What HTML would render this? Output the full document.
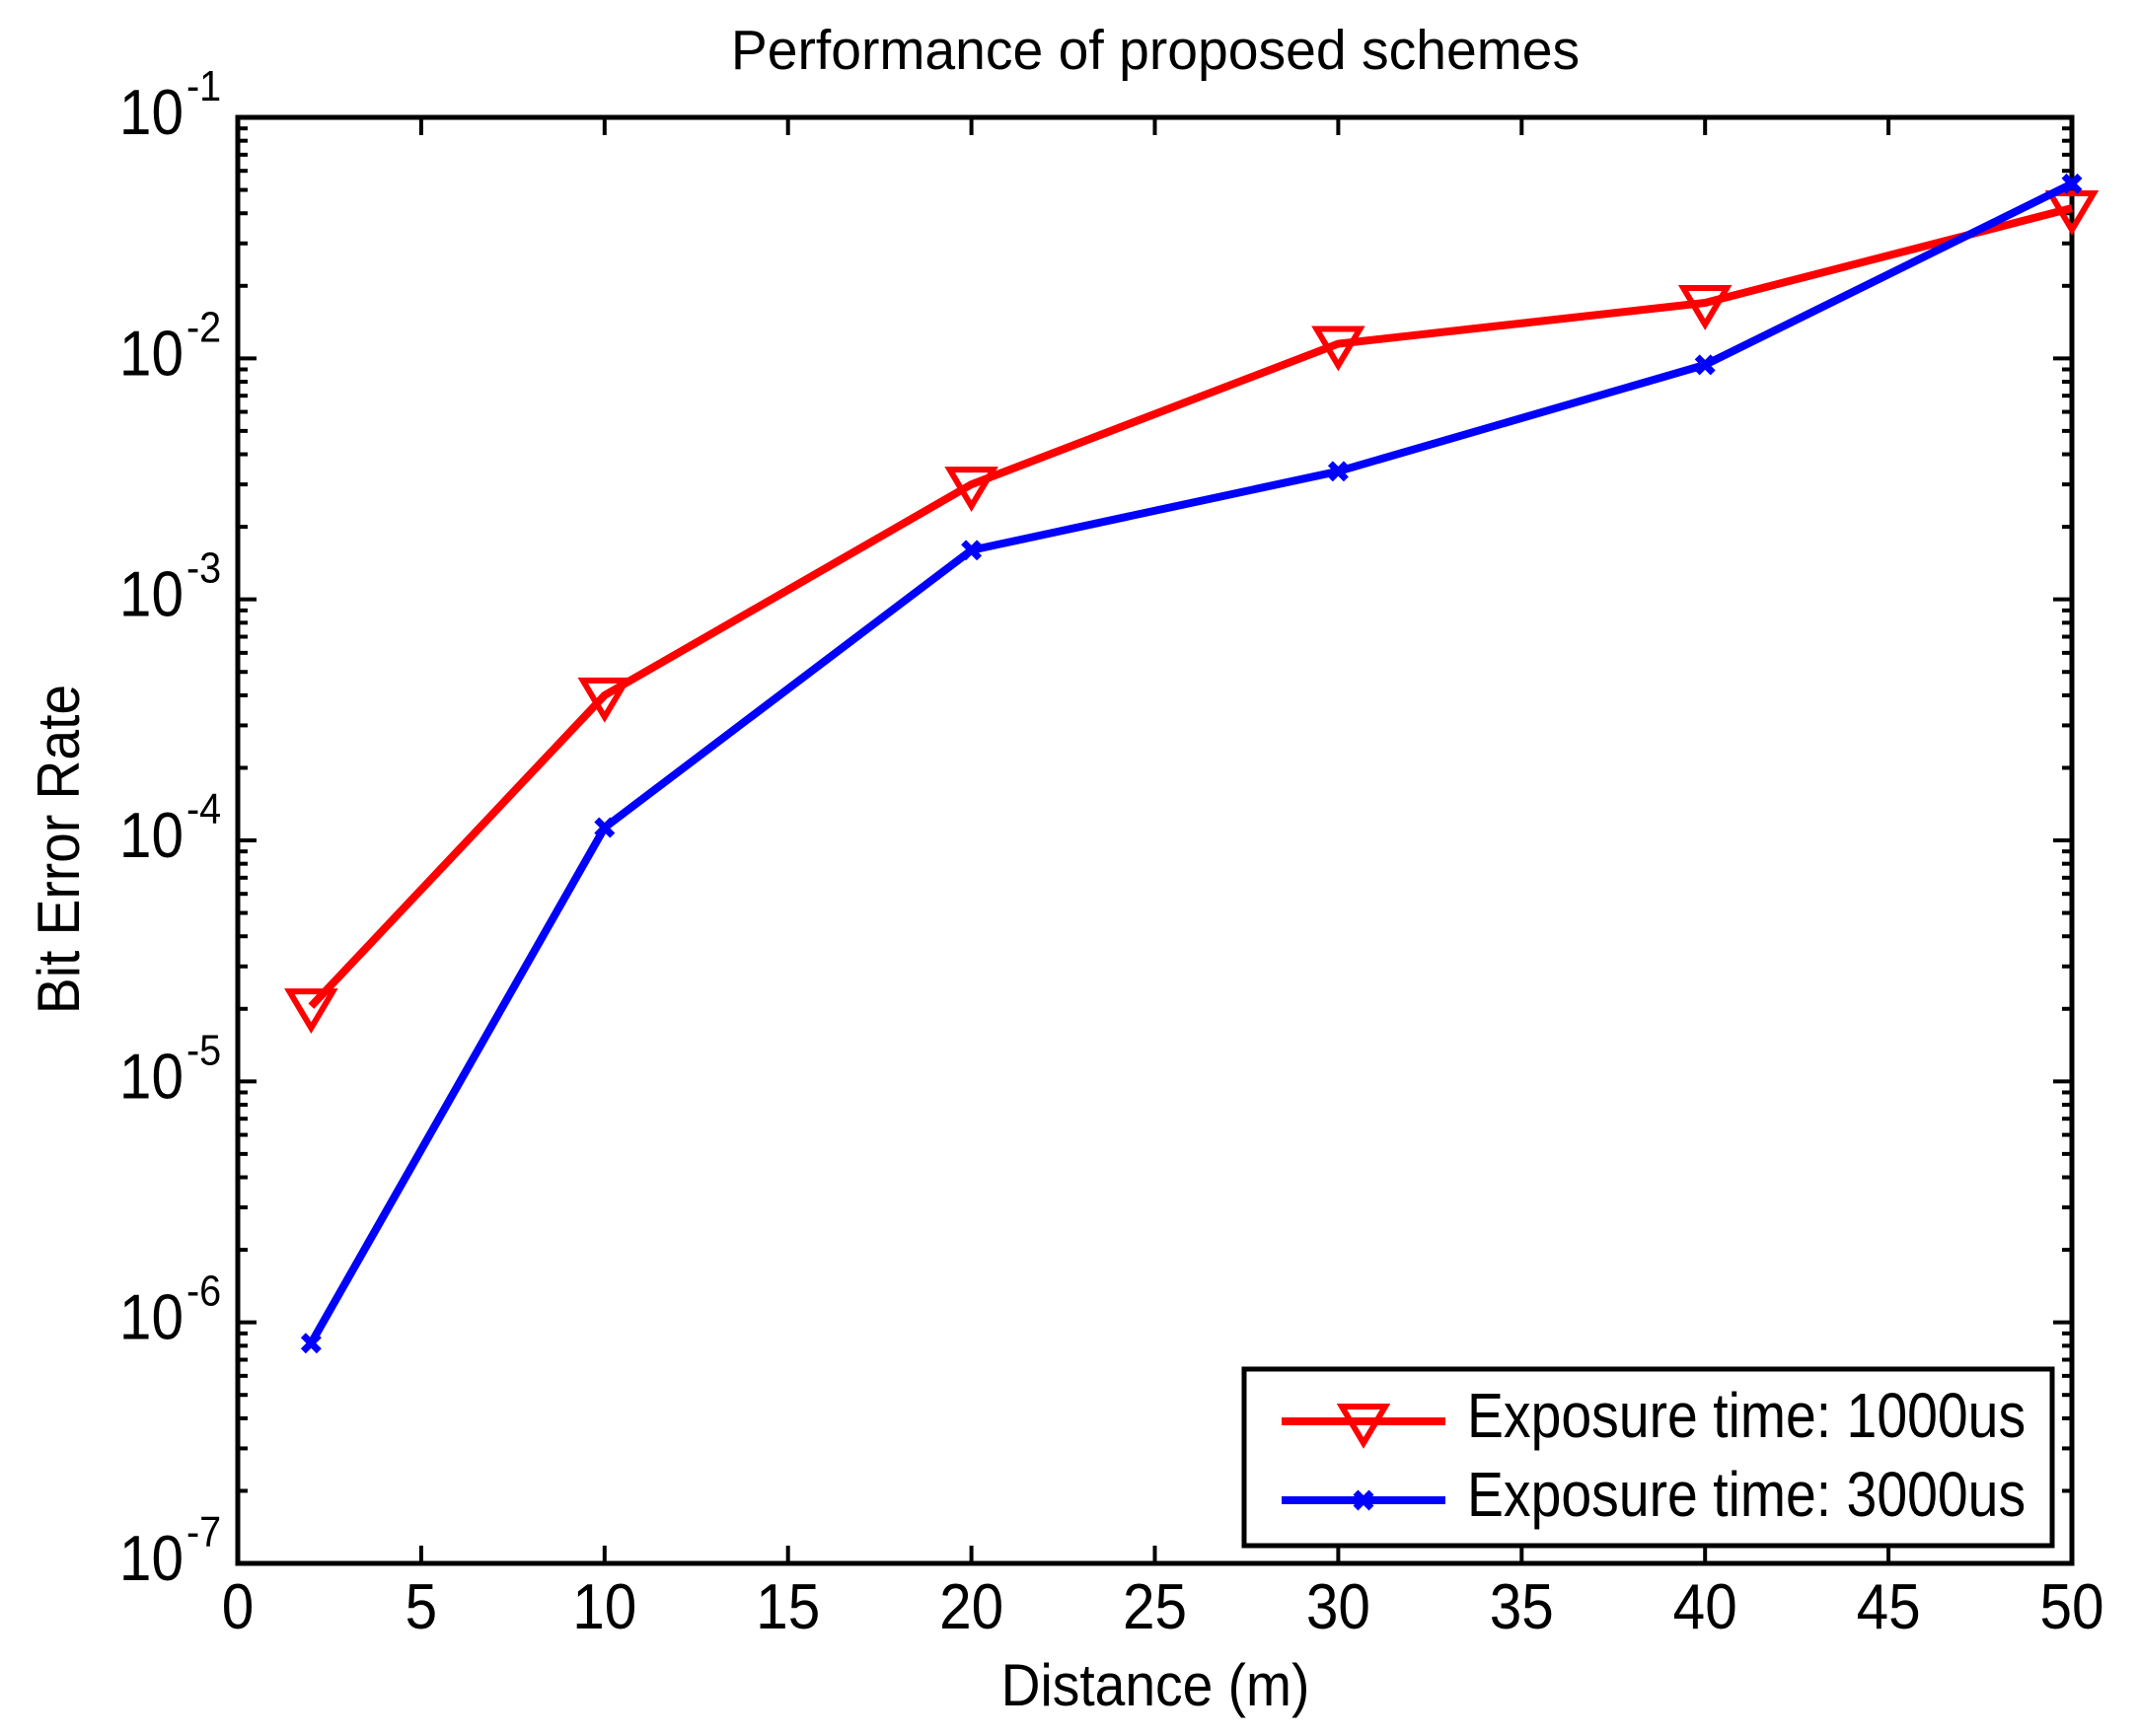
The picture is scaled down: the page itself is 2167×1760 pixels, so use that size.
<!DOCTYPE html>
<html><head><meta charset="utf-8"><style>
html,body{margin:0;padding:0;background:#fff;}
svg{display:block;font-family:"Liberation Sans",Arial,sans-serif;}
</style></head><body>
<svg id="s" width="2167" height="1760" xmlns="http://www.w3.org/2000/svg"></svg>
<script>
const L=241,R=2100,T=119,B=1585;
const X=d=>L+d*(R-L)/50;
const Y=v=>T+(-1-Math.log10(v))*(B-T)/6;
const tx=(x,y,s,fs,sx,anchor,extra)=>`<text transform="translate(${x},${y}) scale(${sx},1)${extra||''}" font-size="${fs}" text-anchor="${anchor||'start'}">${s}</text>`;
let o='<rect width="2167" height="1760" fill="#fff"/>';
for(let i=0;i<=10;i++){const x=X(i*5);
 o+=`<line x1="${x}" y1="${B}" x2="${x}" y2="${B-18}" stroke="#000" stroke-width="4"/>`;
 o+=`<line x1="${x}" y1="${T}" x2="${x}" y2="${T+18}" stroke="#000" stroke-width="4"/>`;
 o+=tx(x,1651,i*5,65,0.9,'middle');}
for(let e=-7;e<=-1;e++){const y=Y(Math.pow(10,e));
 o+=`<line x1="${L}" y1="${y}" x2="${L+19}" y2="${y}" stroke="#000" stroke-width="4"/>`;
 o+=`<line x1="${R}" y1="${y}" x2="${R-19}" y2="${y}" stroke="#000" stroke-width="4"/>`;
 o+=tx(186,y+17,'10',65,0.9,'end');
 o+=tx(189,y-17,e,44,0.9,'start');
 if(e<-1)for(let m=2;m<=9;m++){const yy=Y(m*Math.pow(10,e));
  o+=`<line x1="${L}" y1="${yy}" x2="${L+10}" y2="${yy}" stroke="#000" stroke-width="4"/>`;
  o+=`<line x1="${R}" y1="${yy}" x2="${R-10}" y2="${yy}" stroke="#000" stroke-width="4"/>`;}}
o+=`<rect x="${L}" y="${T}" width="${R-L}" height="${B-T}" fill="none" stroke="#000" stroke-width="5"/>`;
const ds=[2,10,20,30,40,50];
const red=[2.05e-5,4e-4,3e-3,1.15e-2,1.7e-2,4.2e-2];
const blue=[8.2e-7,1.13e-4,1.6e-3,3.4e-3,9.4e-3,5.3e-2];
const tri=(x,y)=>`<polygon points="${x-22},${y-15} ${x+22},${y-15} ${x},${y+22}" fill="none" stroke="#f00" stroke-width="6"/>`;
const xm=(x,y)=>`<path d="M${x-8},${y-8}L${x+8},${y+8}M${x-8},${y+8}L${x+8},${y-8}" stroke="#00f" stroke-width="7"/>`;
o+=`<polyline points="${ds.map((d,i)=>X(d)+','+Y(red[i])).join(' ')}" fill="none" stroke="#f00" stroke-width="8"/>`;
ds.forEach((d,i)=>o+=tri(X(d),Y(red[i])));
o+=`<polyline points="${ds.map((d,i)=>X(d)+','+Y(blue[i])).join(' ')}" fill="none" stroke="#00f" stroke-width="8"/>`;
ds.forEach((d,i)=>o+=xm(X(d),Y(blue[i])));
o+=`<rect x="1261" y="1388" width="819" height="179" fill="#fff" stroke="#000" stroke-width="5"/>`;
o+=`<line x1="1299" y1="1441" x2="1465" y2="1441" stroke="#f00" stroke-width="8"/>`+tri(1382,1441);
o+=`<line x1="1299" y1="1521" x2="1465" y2="1521" stroke="#00f" stroke-width="8"/>`+xm(1382,1521);
o+=tx(1487,1457,'Exposure time: 1000us',64,0.865);
o+=tx(1487,1537,'Exposure time: 3000us',64,0.865);
o+=tx(1171,70,'Performance of proposed schemes',57,0.97,'middle');
o+=tx(1171,1729,'Distance (m)',60,0.92,'middle');
o+=`<text transform="translate(80,861) rotate(-90) scale(0.92,1)" font-size="60" text-anchor="middle">Bit Error Rate</text>`;
document.getElementById('s').innerHTML=o;
</script>
</body></html>
